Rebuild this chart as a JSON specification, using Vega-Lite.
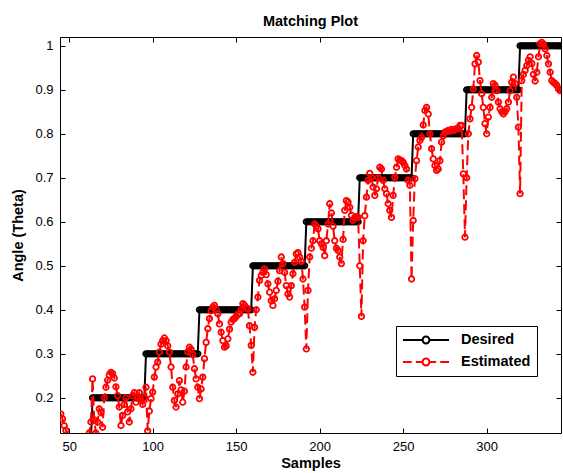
{
"$schema": "https://vega.github.io/schema/vega-lite/v6.json",
"width": 501, "height": 396,
"autosize": {"type": "none"},
"padding": {"left": 60, "top": 37, "right": 2, "bottom": 40},
"background": "white",
"title": {"text": "Matching Plot", "font": "Liberation Sans", "fontSize": 14.5, "fontWeight": "bold", "color": "black", "offset": 7, "anchor": "middle"},
"config": {
  "view": {"stroke": null},
  "axis": {"domainColor": "black", "domainWidth": 1, "tickColor": "black", "tickSize": -5, "tickWidth": 1, "grid": false, "labelColor": "black", "labelFont": "Liberation Sans", "labelFontSize": 13, "labelFlush": false, "titleFont": "Liberation Sans", "titleFontSize": 14.5, "titleFontWeight": "bold", "titleColor": "black"},
  "legend": {"orient": "none", "legendX": 336, "legendY": 289, "strokeColor": "black", "fillColor": "white", "padding": 6, "symbolSize": 196, "symbolOffset": 16, "symbolStrokeWidth": 2, "labelFont": "Liberation Sans", "labelFontSize": 14.5, "labelFontWeight": "bold", "labelColor": "black", "labelOffset": 27, "rowPadding": 6}
},
"data": {"values": [
{"s":45,"d":0.1,"e":0.163},{"s":46,"d":0.1,"e":0.152},{"s":47,"d":0.1,"e":0.137},{"s":48,"d":0.1,"e":0.126},{"s":49,"d":0.1,"e":0.112},
{"s":50,"d":0.1,"e":0.1},{"s":51,"d":0.1,"e":0.095},{"s":52,"d":0.1,"e":0.09},{"s":53,"d":0.1,"e":0.09},{"s":54,"d":0.1,"e":0.095},
{"s":55,"d":0.1,"e":0.1},{"s":56,"d":0.1,"e":0.1},{"s":57,"d":0.1,"e":0.095},{"s":58,"d":0.1,"e":0.09},{"s":59,"d":0.1,"e":0.095},
{"s":60,"d":0.1,"e":0.1},{"s":61,"d":0.1,"e":0.105},{"s":62,"d":0.1,"e":0.12},{"s":63,"d":0.1,"e":0.145},{"s":64,"d":0.2,"e":0.243},
{"s":65,"d":0.2,"e":0.15},{"s":66,"d":0.2,"e":0.12},{"s":67,"d":0.2,"e":0.145},{"s":68,"d":0.2,"e":0.175},{"s":69,"d":0.2,"e":0.167},
{"s":70,"d":0.2,"e":0.133},{"s":71,"d":0.2,"e":0.2},{"s":72,"d":0.2,"e":0.224},{"s":73,"d":0.2,"e":0.24},{"s":74,"d":0.2,"e":0.252},
{"s":75,"d":0.2,"e":0.258},{"s":76,"d":0.2,"e":0.255},{"s":77,"d":0.2,"e":0.245},{"s":78,"d":0.2,"e":0.225},{"s":79,"d":0.2,"e":0.205},
{"s":80,"d":0.2,"e":0.179},{"s":81,"d":0.2,"e":0.137},{"s":82,"d":0.2,"e":0.16},{"s":83,"d":0.2,"e":0.185},{"s":84,"d":0.2,"e":0.2},
{"s":85,"d":0.2,"e":0.168},{"s":86,"d":0.2,"e":0.145},{"s":87,"d":0.2,"e":0.175},{"s":88,"d":0.2,"e":0.205},{"s":89,"d":0.2,"e":0.212},
{"s":90,"d":0.2,"e":0.19},{"s":91,"d":0.2,"e":0.2},{"s":92,"d":0.2,"e":0.212},{"s":93,"d":0.2,"e":0.195},{"s":94,"d":0.2,"e":0.185},
{"s":95,"d":0.2,"e":0.2},{"s":96,"d":0.3,"e":0.224},{"s":97,"d":0.3,"e":0.125},{"s":98,"d":0.3,"e":0.17},{"s":99,"d":0.3,"e":0.198},
{"s":100,"d":0.3,"e":0.213},{"s":101,"d":0.3,"e":0.247},{"s":102,"d":0.3,"e":0.27},{"s":103,"d":0.3,"e":0.281},{"s":104,"d":0.3,"e":0.304},
{"s":105,"d":0.3,"e":0.322},{"s":106,"d":0.3,"e":0.33},{"s":107,"d":0.3,"e":0.336},{"s":108,"d":0.3,"e":0.33},{"s":109,"d":0.3,"e":0.318},
{"s":110,"d":0.3,"e":0.304},{"s":111,"d":0.3,"e":0.27},{"s":112,"d":0.3,"e":0.224},{"s":113,"d":0.3,"e":0.194},{"s":114,"d":0.3,"e":0.179},
{"s":115,"d":0.3,"e":0.209},{"s":116,"d":0.3,"e":0.239},{"s":117,"d":0.3,"e":0.218},{"s":118,"d":0.3,"e":0.19},{"s":119,"d":0.3,"e":0.215},
{"s":120,"d":0.3,"e":0.27},{"s":121,"d":0.3,"e":0.304},{"s":122,"d":0.3,"e":0.315},{"s":123,"d":0.3,"e":0.31},{"s":124,"d":0.3,"e":0.298},
{"s":125,"d":0.3,"e":0.266},{"s":126,"d":0.3,"e":0.243},{"s":127,"d":0.3,"e":0.224},{"s":128,"d":0.4,"e":0.198},{"s":129,"d":0.4,"e":0.22},
{"s":130,"d":0.4,"e":0.247},{"s":131,"d":0.4,"e":0.289},{"s":132,"d":0.4,"e":0.326},{"s":133,"d":0.4,"e":0.357},{"s":134,"d":0.4,"e":0.38},
{"s":135,"d":0.4,"e":0.398},{"s":136,"d":0.4,"e":0.406},{"s":137,"d":0.4,"e":0.41},{"s":138,"d":0.4,"e":0.4},{"s":139,"d":0.4,"e":0.391},
{"s":140,"d":0.4,"e":0.368},{"s":141,"d":0.4,"e":0.349},{"s":142,"d":0.4,"e":0.33},{"s":143,"d":0.4,"e":0.315},{"s":144,"d":0.4,"e":0.318},
{"s":145,"d":0.4,"e":0.334},{"s":146,"d":0.4,"e":0.356},{"s":147,"d":0.4,"e":0.372},{"s":148,"d":0.4,"e":0.378},{"s":149,"d":0.4,"e":0.38},
{"s":150,"d":0.4,"e":0.385},{"s":151,"d":0.4,"e":0.39},{"s":152,"d":0.4,"e":0.391},{"s":153,"d":0.4,"e":0.4},{"s":154,"d":0.4,"e":0.414},
{"s":155,"d":0.4,"e":0.41},{"s":156,"d":0.4,"e":0.405},{"s":157,"d":0.4,"e":0.402},{"s":158,"d":0.4,"e":0.364},{"s":159,"d":0.4,"e":0.319},
{"s":160,"d":0.5,"e":0.258},{"s":161,"d":0.5,"e":0.36},{"s":162,"d":0.5,"e":0.4},{"s":163,"d":0.5,"e":0.429},{"s":164,"d":0.5,"e":0.467},
{"s":165,"d":0.5,"e":0.478},{"s":166,"d":0.5,"e":0.485},{"s":167,"d":0.5,"e":0.493},{"s":168,"d":0.5,"e":0.48},{"s":169,"d":0.5,"e":0.459},
{"s":170,"d":0.5,"e":0.44},{"s":171,"d":0.5,"e":0.421},{"s":172,"d":0.5,"e":0.41},{"s":173,"d":0.5,"e":0.425},{"s":174,"d":0.5,"e":0.444},
{"s":175,"d":0.5,"e":0.465},{"s":176,"d":0.5,"e":0.489},{"s":177,"d":0.5,"e":0.52},{"s":178,"d":0.5,"e":0.505},{"s":179,"d":0.5,"e":0.485},
{"s":180,"d":0.5,"e":0.455},{"s":181,"d":0.5,"e":0.436},{"s":182,"d":0.5,"e":0.429},{"s":183,"d":0.5,"e":0.455},{"s":184,"d":0.5,"e":0.482},
{"s":185,"d":0.5,"e":0.508},{"s":186,"d":0.5,"e":0.527},{"s":187,"d":0.5,"e":0.53},{"s":188,"d":0.5,"e":0.52},{"s":189,"d":0.5,"e":0.51},
{"s":190,"d":0.5,"e":0.47},{"s":191,"d":0.5,"e":0.406},{"s":192,"d":0.6,"e":0.311},{"s":193,"d":0.6,"e":0.444},{"s":194,"d":0.6,"e":0.52},
{"s":195,"d":0.6,"e":0.54},{"s":196,"d":0.6,"e":0.557},{"s":197,"d":0.6,"e":0.595},{"s":198,"d":0.6,"e":0.59},{"s":199,"d":0.6,"e":0.584},
{"s":200,"d":0.6,"e":0.557},{"s":201,"d":0.6,"e":0.55},{"s":202,"d":0.6,"e":0.542},{"s":203,"d":0.6,"e":0.523},{"s":204,"d":0.6,"e":0.557},
{"s":205,"d":0.6,"e":0.595},{"s":206,"d":0.6,"e":0.641},{"s":207,"d":0.6,"e":0.62},{"s":208,"d":0.6,"e":0.59},{"s":209,"d":0.6,"e":0.557},
{"s":210,"d":0.6,"e":0.54},{"s":211,"d":0.6,"e":0.535},{"s":212,"d":0.6,"e":0.52},{"s":213,"d":0.6,"e":0.505},{"s":214,"d":0.6,"e":0.56},
{"s":215,"d":0.6,"e":0.626},{"s":216,"d":0.6,"e":0.648},{"s":217,"d":0.6,"e":0.645},{"s":218,"d":0.6,"e":0.633},{"s":219,"d":0.6,"e":0.615},
{"s":220,"d":0.6,"e":0.603},{"s":221,"d":0.6,"e":0.61},{"s":222,"d":0.6,"e":0.612},{"s":223,"d":0.6,"e":0.61},{"s":224,"d":0.7,"e":0.5},
{"s":225,"d":0.7,"e":0.385},{"s":226,"d":0.7,"e":0.557},{"s":227,"d":0.7,"e":0.614},{"s":228,"d":0.7,"e":0.656},{"s":229,"d":0.7,"e":0.694},
{"s":230,"d":0.7,"e":0.71},{"s":231,"d":0.7,"e":0.7},{"s":232,"d":0.7,"e":0.679},{"s":233,"d":0.7,"e":0.66},{"s":234,"d":0.7,"e":0.675},
{"s":235,"d":0.7,"e":0.7},{"s":236,"d":0.7,"e":0.724},{"s":237,"d":0.7,"e":0.72},{"s":238,"d":0.7,"e":0.694},{"s":239,"d":0.7,"e":0.675},
{"s":240,"d":0.7,"e":0.664},{"s":241,"d":0.7,"e":0.641},{"s":242,"d":0.7,"e":0.626},{"s":243,"d":0.7,"e":0.61},{"s":244,"d":0.7,"e":0.66},
{"s":245,"d":0.7,"e":0.701},{"s":246,"d":0.7,"e":0.724},{"s":247,"d":0.7,"e":0.743},{"s":248,"d":0.7,"e":0.74},{"s":249,"d":0.7,"e":0.739},
{"s":250,"d":0.7,"e":0.735},{"s":251,"d":0.7,"e":0.728},{"s":252,"d":0.7,"e":0.72},{"s":253,"d":0.7,"e":0.694},{"s":254,"d":0.7,"e":0.683},
{"s":255,"d":0.7,"e":0.47},{"s":256,"d":0.8,"e":0.603},{"s":257,"d":0.8,"e":0.698},{"s":258,"d":0.8,"e":0.739},{"s":259,"d":0.8,"e":0.77},
{"s":260,"d":0.8,"e":0.785},{"s":261,"d":0.8,"e":0.792},{"s":262,"d":0.8,"e":0.82},{"s":263,"d":0.8,"e":0.853},{"s":264,"d":0.8,"e":0.86},
{"s":265,"d":0.8,"e":0.845},{"s":266,"d":0.8,"e":0.8},{"s":267,"d":0.8,"e":0.766},{"s":268,"d":0.8,"e":0.743},{"s":269,"d":0.8,"e":0.728},
{"s":270,"d":0.8,"e":0.717},{"s":271,"d":0.8,"e":0.72},{"s":272,"d":0.8,"e":0.739},{"s":273,"d":0.8,"e":0.781},{"s":274,"d":0.8,"e":0.795},
{"s":275,"d":0.8,"e":0.804},{"s":276,"d":0.8,"e":0.805},{"s":277,"d":0.8,"e":0.808},{"s":278,"d":0.8,"e":0.806},{"s":279,"d":0.8,"e":0.81},
{"s":280,"d":0.8,"e":0.807},{"s":281,"d":0.8,"e":0.81},{"s":282,"d":0.8,"e":0.812},{"s":283,"d":0.8,"e":0.811},{"s":284,"d":0.8,"e":0.819},
{"s":285,"d":0.8,"e":0.819},{"s":286,"d":0.8,"e":0.709},{"s":287,"d":0.8,"e":0.565},{"s":288,"d":0.9,"e":0.7},{"s":289,"d":0.9,"e":0.8},
{"s":290,"d":0.9,"e":0.834},{"s":291,"d":0.9,"e":0.86},{"s":292,"d":0.9,"e":0.902},{"s":293,"d":0.9,"e":0.959},{"s":294,"d":0.9,"e":0.978},
{"s":295,"d":0.9,"e":0.963},{"s":296,"d":0.9,"e":0.921},{"s":297,"d":0.9,"e":0.891},{"s":298,"d":0.9,"e":0.86},{"s":299,"d":0.9,"e":0.823},
{"s":300,"d":0.9,"e":0.8},{"s":301,"d":0.9,"e":0.838},{"s":302,"d":0.9,"e":0.86},{"s":303,"d":0.9,"e":0.883},{"s":304,"d":0.9,"e":0.914},
{"s":305,"d":0.9,"e":0.91},{"s":306,"d":0.9,"e":0.898},{"s":307,"d":0.9,"e":0.872},{"s":308,"d":0.9,"e":0.857},{"s":309,"d":0.9,"e":0.85},
{"s":310,"d":0.9,"e":0.845},{"s":311,"d":0.9,"e":0.85},{"s":312,"d":0.9,"e":0.857},{"s":313,"d":0.9,"e":0.872},{"s":314,"d":0.9,"e":0.898},
{"s":315,"d":0.9,"e":0.917},{"s":316,"d":0.9,"e":0.929},{"s":317,"d":0.9,"e":0.914},{"s":318,"d":0.9,"e":0.883},{"s":319,"d":0.9,"e":0.815},
{"s":320,"d":1.0,"e":0.664},{"s":321,"d":1.0,"e":0.921},{"s":322,"d":1.0,"e":0.935},{"s":323,"d":1.0,"e":0.944},{"s":324,"d":1.0,"e":0.955},
{"s":325,"d":1.0,"e":0.967},{"s":326,"d":1.0,"e":0.975},{"s":327,"d":1.0,"e":0.96},{"s":328,"d":1.0,"e":0.935},{"s":329,"d":1.0,"e":0.92},
{"s":330,"d":1.0,"e":0.94},{"s":331,"d":1.0,"e":0.975},{"s":332,"d":1.0,"e":1.005},{"s":333,"d":1.0,"e":1.008},{"s":334,"d":1.0,"e":1.004},
{"s":335,"d":1.0,"e":0.993},{"s":336,"d":1.0,"e":0.978},{"s":337,"d":1.0,"e":0.959},{"s":338,"d":1.0,"e":0.94},{"s":339,"d":1.0,"e":0.921},
{"s":340,"d":1.0,"e":0.917},{"s":341,"d":1.0,"e":0.914},{"s":342,"d":1.0,"e":0.91},{"s":343,"d":1.0,"e":0.902},{"s":344,"d":1.0,"e":0.898},
{"s":345,"d":1.0,"e":0.9}
]},
"resolve": {"axis": {"x": "independent", "y": "independent"}},
"layer": [
  {"mark": {"type": "line", "color": "black", "strokeWidth": 2, "clip": true},
   "encoding": {
     "x": {"field": "s", "type": "quantitative", "scale": {"domain": [44.5, 344.5], "nice": false, "zero": false},
           "axis": {"orient": "bottom", "values": [50,100,150,200,250,300], "labelPadding": 12, "title": "Samples", "titlePadding": 3}},
     "y": {"field": "d", "type": "quantitative", "scale": {"domain": [0.12, 1.02], "nice": false, "zero": false},
           "axis": {"orient": "left", "values": [0.2,0.3,0.4,0.5,0.6,0.7,0.8,0.9,1.0], "format": ".1~f", "labelPadding": 12, "title": "Angle (Theta)", "titlePadding": 9}}}},
  {"mark": {"type": "point", "shape": "circle", "filled": false, "color": "black", "size": 30, "strokeWidth": 1.8, "opacity": 1, "clip": true},
   "encoding": {
     "x": {"field": "s", "type": "quantitative", "axis": null},
     "y": {"field": "d", "type": "quantitative", "axis": null}}},
  {"mark": {"type": "line", "color": "red", "strokeWidth": 2, "strokeDash": [10, 5], "clip": true},
   "encoding": {
     "x": {"field": "s", "type": "quantitative", "axis": {"orient": "top", "values": [50,100,150,200,250,300], "labels": false, "title": null}},
     "y": {"field": "e", "type": "quantitative", "axis": {"orient": "right", "values": [0.2,0.3,0.4,0.5,0.6,0.7,0.8,0.9,1.0], "labels": false, "title": null}}}},
  {"mark": {"type": "point", "shape": "circle", "filled": false, "color": "red", "size": 30, "strokeWidth": 1.8, "opacity": 1, "clip": true},
   "encoding": {
     "x": {"field": "s", "type": "quantitative", "axis": null},
     "y": {"field": "e", "type": "quantitative", "axis": null}}},
  {"data": {"values": [{"series": "Desired"}, {"series": "Estimated"}]},
   "transform": [{"filter": "false"}],
   "mark": {"type": "point", "filled": false, "strokeWidth": 2, "opacity": 1},
   "encoding": {
     "color": {"field": "series", "type": "nominal", "scale": {"domain": ["Desired", "Estimated"], "range": ["black", "red"]}, "legend": {"title": null}},
     "shape": {"field": "series", "type": "nominal", "scale": {"domain": ["Desired", "Estimated"], "range": ["M-3.29,0H-0.49M0.49,0H3.29M0.49,0A0.49,0.49,0,1,1,-0.49,0A0.49,0.49,0,1,1,0.49,0", "M-3.29,0H-2.04M-1.45,0H-0.49M0.49,0H1.45M2.04,0H3.29M0.49,0A0.49,0.49,0,1,1,-0.49,0A0.49,0.49,0,1,1,0.49,0"]}, "legend": {"title": null}}}}
]
}
